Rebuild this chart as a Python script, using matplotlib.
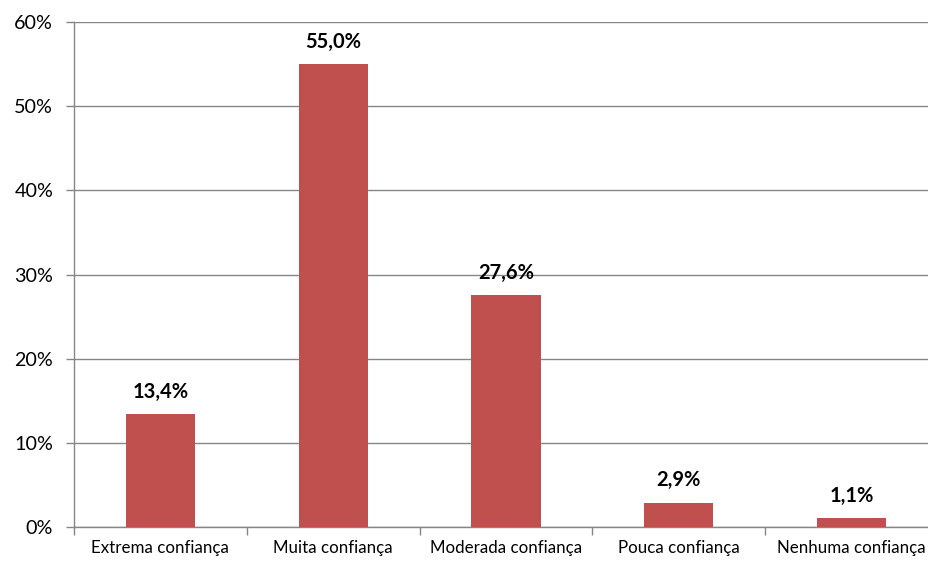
import matplotlib
matplotlib.use("Agg")
import matplotlib.pyplot as plt
from matplotlib.ticker import FuncFormatter, MultipleLocator, FixedLocator

categories = ["Extrema confiança", "Muita confiança", "Moderada confiança",
              "Pouca confiança", "Nenhuma confiança"]
values = [13.4, 55.0, 27.6, 2.9, 1.1]

plt.rcParams["font.family"] = ["Lato", "DejaVu Sans"]

fig = plt.figure(figsize=(9.29, 5.61), dpi=100)
# plot area runs slightly past the right edge of the canvas
ax = fig.add_axes([74 / 929, 34 / 561, 864 / 929, 505 / 561])

x = range(len(categories))
ax.bar(x, values, width=0.4, color="#C0504D", zorder=3)

for xi, v in zip(x, values):
    ax.annotate(f"{v:.1f}%".replace(".", ","), (xi, v), xytext=(0, 16),
                textcoords="offset points", ha="center", va="center",
                fontsize=14.5, fontweight="bold", color="black")

ax.set_xlim(-0.5, len(categories) - 0.5)
ax.set_ylim(0, 60)
ax.yaxis.set_major_locator(MultipleLocator(10))
ax.yaxis.set_major_formatter(FuncFormatter(lambda v, p: f"{v:.0f}%"))
ax.grid(axis="y", color="#868686", linewidth=1.0, zorder=0)

ax.set_xticks(list(x))
ax.set_xticklabels(categories, fontsize=12.2)
ax.tick_params(axis="x", which="major", length=0, pad=9)
ax.xaxis.set_minor_locator(FixedLocator([i + 0.5 for i in range(-1, len(categories))]))
ax.tick_params(axis="x", which="minor", length=6, color="#868686", width=1)
ax.tick_params(axis="y", length=6, color="#868686", width=1, labelsize=14.2, pad=9)

for s in ["top", "right"]:
    ax.spines[s].set_visible(False)
for s in ["left", "bottom"]:
    ax.spines[s].set_color("#868686")
    ax.spines[s].set_linewidth(1.0)

fig.savefig("out.png", dpi=100)
